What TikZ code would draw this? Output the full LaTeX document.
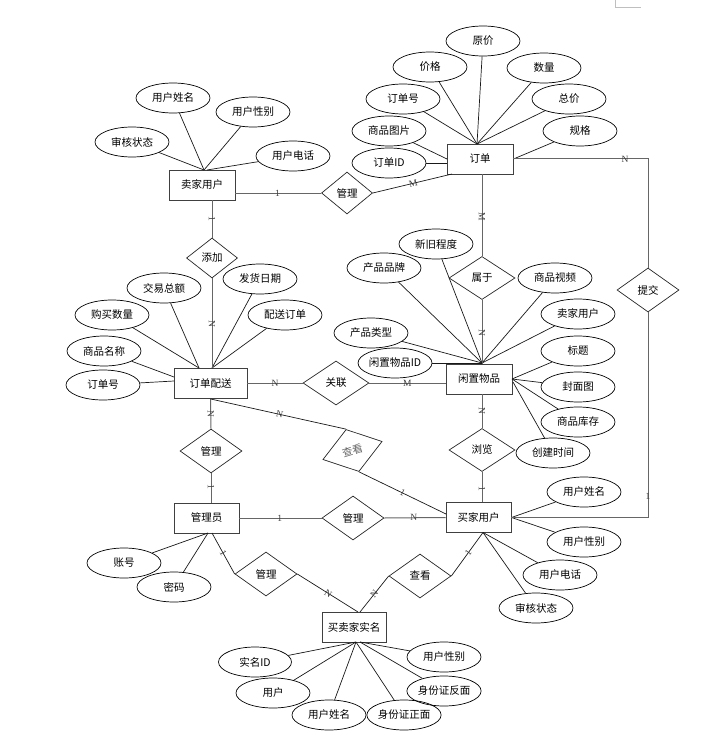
\documentclass[tikz,border=0pt]{standalone}
\usepackage{fontspec}
\setmainfont{Noto Sans CJK SC}
\newfontfamily\cardf{Liberation Serif}
\usetikzlibrary{shapes.geometric}
\begin{document}
\begin{tikzpicture}[x=1pt,y=-1pt,
  every node/.style={font=\fontsize{10.5}{12}\selectfont},
  ent/.style={draw=black!75, line width=0.9pt, minimum width=66pt, minimum height=30pt, inner sep=0pt},
  attr/.style={ellipse, draw=black, line width=0.7pt, minimum width=74pt, minimum height=30pt, inner sep=0pt},
  rel/.style={diamond, draw=black!85, line width=0.7pt, minimum width=62pt, minimum height=44pt, inner sep=0pt},
  aline/.style={line width=0.7pt, draw=black!90},
  rline/.style={line width=1pt, draw=black!60},
  card/.style={font=\cardf\fontsize{9.5}{9.5}\selectfont, text=black!75, inner sep=0.5pt},
]
\useasboundingbox (0,0) rectangle (701,746);
\draw[gray!50, line width=0.6pt] (615,0) -- (615,7) -- (641,7);

% entities
\node[ent] (order) at (480,159) {订单};
\node[ent] (sellerU) at (202,185) {卖家用户};
\node[ent, minimum width=73pt] (dispatch) at (210.5,383.5) {订单配送};
\node[ent] (item) at (479,379) {闲置物品};
\node[ent, minimum width=65pt] (admin) at (206.5,518) {管理员};
\node[ent, minimum width=65pt] (buyer) at (478.5,517.5) {买家用户};
\node[ent, minimum width=64pt] (real) at (354,627) {买卖家实名};

% relationships
\node[rel, minimum width=51pt, minimum height=42pt] (m1) at (347,193) {管理};
\node[rel, minimum width=51pt, minimum height=40pt] (add) at (212,258) {添加};
\node[rel, minimum width=66pt, minimum height=43pt] (belong) at (482,278) {属于};
\node[rel] (submit) at (648,290) {提交};
\node[rel, minimum width=66pt] (assoc) at (336,383) {关联};
\node[rel, minimum width=66pt, minimum height=43pt] (browse) at (482,450) {浏览};
\node[rel] (mg2) at (211,451) {管理};
\node[rel, rotate=17] (look1) at (352.5,450.5) {\textcolor{black!60}{查看}};
\node[rel] (mg3) at (353,518) {管理};
\node[rel] (mg4) at (266,574) {管理};
\node[rel] (look2) at (420,576) {查看};

% attributes of 订单
\node[attr] (oYJ) at (483,41) {原价};
\node[attr] (oJG) at (430,67) {价格};
\node[attr] (oSL) at (544,68) {数量};
\node[attr] (oDH) at (403,99) {订单号};
\node[attr] (oZJ) at (569,99) {总价};
\node[attr] (oTP) at (389,131) {商品图片};
\node[attr] (oGG) at (580,131) {规格};
\node[attr] (oID) at (389,163) {订单ID};
\coordinate (oT) at (477,144);
\coordinate (oL1) at (447,159);
\coordinate (oL2) at (447,163);
\foreach \a in {oYJ,oJG,oSL,oDH,oZJ} \draw[aline] (\a) -- (oT);
\draw[aline] (oGG) -- (order.east);
\draw[aline] (oTP) -- (oL1);
\draw[aline] (oID) -- (oL2);

% attributes of 卖家用户
\node[attr] (sNM) at (173,98) {用户姓名};
\node[attr] (sSX) at (253,112) {用户性别};
\node[attr] (sAU) at (132,142) {审核状态};
\node[attr] (sPH) at (293,156) {用户电话};
\coordinate (sT) at (204,170);
\coordinate (sT2) at (207,170);
\foreach \a in {sNM,sSX,sAU} \draw[aline] (\a) -- (sT);
\draw[aline] (sPH) -- (sT2);

% attributes of 订单配送
\node[attr] (dTT) at (164,288) {交易总额};
\node[attr] (dDT) at (260,279) {发货日期};
\node[attr] (dQT) at (112,315) {购买数量};
\node[attr] (dOR) at (285,315) {配送订单};
\node[attr] (dNM) at (104,351) {商品名称};
\node[attr] (dNO) at (103,385) {订单号};
\coordinate (dT1) at (199,368);
\coordinate (dT2) at (212,368);
\coordinate (dL1) at (174,377);
\coordinate (dL2) at (174,381);
\draw[aline] (dTT) -- (dT1);
\draw[aline] (dQT) -- (dT1);
\draw[aline] (dDT) -- (dT2);
\draw[aline] (dOR) -- (dT2);
\draw[aline] (dNM) -- (dL1);
\draw[aline] (dNO) -- (dL2);

% attributes of 闲置物品
\node[attr] (iXJ) at (436,244) {新旧程度};
\node[attr] (iPP) at (384,268) {产品品牌};
\node[attr] (iSP) at (555,278) {商品视频};
\node[attr] (iSE) at (578,314) {卖家用户};
\node[attr] (iLX) at (371,333) {产品类型};
\node[attr] (iTI) at (578,351) {标题};
\node[attr, minimum width=73pt] (iID) at (395,363) {闲置物品ID};
\node[attr] (iCV) at (578,387) {封面图};
\node[attr] (iST) at (578,422) {商品库存};
\node[attr] (iTM) at (553,453) {创建时间};
\coordinate (iT) at (482,363);
\coordinate (iR) at (512,379);
\coordinate (iR2) at (513,382);
\foreach \a in {iXJ,iPP,iSP,iSE,iLX,iID} \draw[aline] (\a) -- (iT);
\foreach \a in {iTI,iCV,iST} \draw[aline] (\a) -- (iR);
\draw[aline] (iTM) -- (iR2);

% attributes of 管理员
\node[attr] (aAC) at (124,563) {账号};
\node[attr] (aPW) at (174,587) {密码};
\coordinate (aB) at (208,533);
\coordinate (aB2) at (212,533);
\draw[aline] (aAC) -- (aB);
\draw[aline] (aPW) -- (aB);

% attributes of 买家用户
\node[attr] (bNM) at (584,492) {用户姓名};
\node[attr] (bSX) at (584,542) {用户性别};
\node[attr] (bPH) at (560,575) {用户电话};
\node[attr] (bAU) at (536,608) {审核状态};
\coordinate (bB) at (483,532.5);
\draw[aline] (bNM) -- (buyer.east);
\draw[aline] (bSX) -- (buyer.east);
\draw[aline] (bPH) -- (bB);
\draw[aline] (bAU) -- (bB);

% attributes of 买卖家实名
\node[attr, minimum width=73pt] (rID) at (255,662) {实名ID};
\node[attr] (rUS) at (273,693) {用户};
\node[attr] (rNM) at (329,715) {用户姓名};
\node[attr, minimum width=72pt] (rFR) at (404,715) {身份证正面};
\node[attr, minimum width=68pt] (rBK) at (444,691) {身份证反面};
\node[attr] (rSX) at (444,657) {用户性别};
\coordinate (rB1) at (356,642);
\coordinate (rB2) at (360,642);
\foreach \a in {rID,rUS,rNM,rFR} \draw[aline] (\a) -- (rB1);
\draw[aline] (rBK) -- (rB2);
\draw[aline] (rSX) -- (rB2);

% relationship connectors
\draw[rline] (sellerU.east |- m1.west) -- node[card, pos=0.49] {1} (m1.west);
\coordinate (oBL) at (452,174);
\draw[aline] (m1.east) -- node[card, sloped, pos=0.51] {M} (oBL);
\draw[rline] (add.north |- sellerU.south) -- node[card, sloped, pos=0.5] {1} (add.north);
\draw[rline] (add.south) -- node[card, sloped, pos=0.51] {N} (add.south |- dispatch.north);
\draw[rline] (belong.north |- order.south) -- node[card, sloped, pos=0.52] {M} (belong.north);
\draw[rline] (belong.south) -- node[card, sloped, pos=0.52] {N} (belong.south |- item.north);
\draw[rline] (order.east) -| node[card, pos=0.415] {N} (submit.north);
\draw[rline] (submit.south) |- node[card, pos=0.449] {1} (buyer.east);
\draw[rline] (dispatch.east |- assoc.west) -- node[card, pos=0.5] {N} (assoc.west);
\draw[rline] (assoc.east) -- node[card, pos=0.5] {M} (item.west |- assoc.east);
\draw[rline] (dispatch.south) -- node[card, sloped, pos=0.5] {N} (mg2.north);
\draw[rline] (mg2.south) -- node[card, sloped, pos=0.47] {1} (mg2.south |- admin.north);
\coordinate (bL) at (446,514);
\draw[aline] (dispatch.south) -- node[card, sloped, pos=0.51] {N} (look1.north);
\draw[aline] (look1.south) -- node[card, sloped, pos=0.5] {1} (bL);
\draw[rline] (admin.east) -- node[card, pos=0.49] {1} (mg3.west);
\draw[rline] (mg3.east) -- node[card, pos=0.48] {N} (buyer.west);
\draw[rline] (browse.north |- item.south) -- node[card, sloped, pos=0.5] {N} (browse.north);
\draw[rline] (browse.south) -- node[card, sloped, pos=0.55] {1} (browse.south |- buyer.north);
\draw[aline] (aB2) -- node[card, sloped, pos=0.5] {1} (mg4.west);
\coordinate (rT1) at (358,612);
\coordinate (rT2) at (360,612);
\draw[aline] (mg4.east) -- node[card, sloped, pos=0.51] {N} (rT1);
\draw[aline] (rT2) -- node[card, sloped, pos=0.5] {N} (look2.west);
\draw[aline] (look2.east) -- node[card, sloped, pos=0.53] {1} (bB);
\end{tikzpicture}
\end{document}
